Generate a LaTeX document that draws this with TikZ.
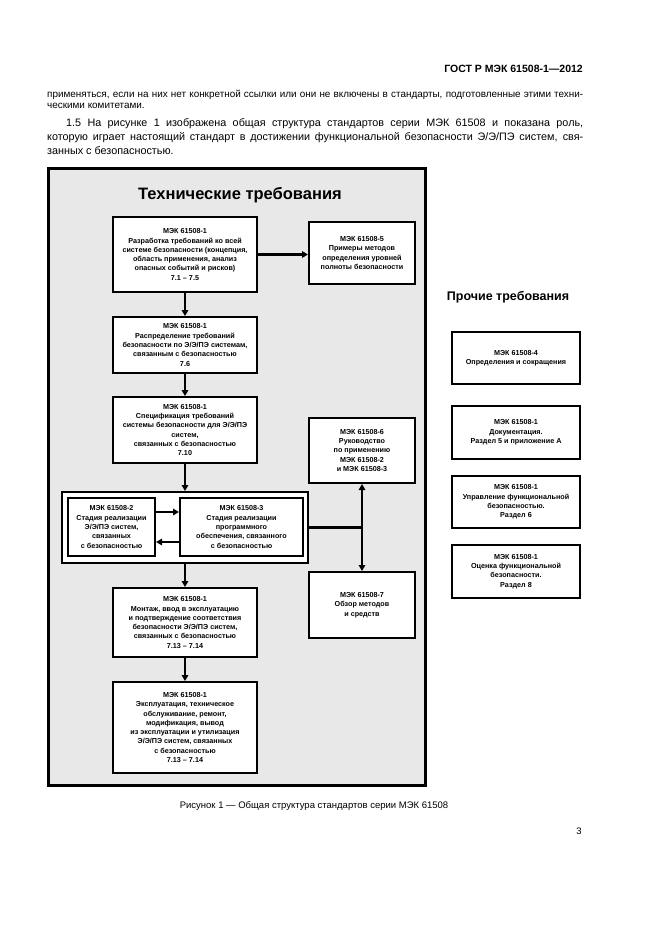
\documentclass[tikz,border=0pt]{standalone}
\usepackage{fontspec}
\setmainfont{Liberation Sans}
\usetikzlibrary{arrows.meta}

\newcommand{\boxfont}{\fontsize{7.2bp}{9.3bp}\selectfont\bfseries}
\newcommand{\smallpar}{\fontsize{9.9bp}{11bp}\selectfont}
\newcommand{\bigpar}{\fontsize{10.8bp}{12bp}\selectfont}

\tikzset{
	stdbox/.style={draw, line width=2bp, fill=white, align=center, font=\boxfont, inner sep=1bp, minimum width=144bp},
	sidebox/.style={stdbox, minimum width=106bp},
	otherbox/.style={stdbox, minimum width=128bp, minimum height=52.5bp},
	flow/.style={line width=2.8bp, -{Triangle[length=6bp,width=6.5bp]}},
	bothflow/.style={line width=2.8bp, {Triangle[length=6bp,width=6.5bp]}-{Triangle[length=6bp,width=6.5bp]}},
	pagetext/.style={anchor=base west, inner sep=0pt},
}

\begin{document}
\begin{tikzpicture}[x=1bp,y=-1bp]
	\path[use as bounding box, fill=white] (0,0) rectangle (661,935);

	%page text
	\node[anchor=base east, inner sep=0pt, font=\fontsize{10.5bp}{12bp}\selectfont\bfseries] (header) at (583,72) {ГОСТ Р МЭК 61508-1—2012};
	\node[pagetext, font=\smallpar] (parA1) at (47,97) {\makebox[536bp][s]{применяться, если на них нет конкретной ссылки или они не включены в стандарты, подготовленные этими техни-}};
	\node[pagetext, font=\smallpar] (parA2) at (47,108) {ческими комитетами.};
	\node[pagetext, font=\bigpar] (parB1) at (66,126) {\makebox[517bp][s]{1.5 На рисунке 1 изображена общая структура стандартов серии МЭК 61508 и показана роль,}};
	\node[pagetext, font=\bigpar] (parB2) at (47,140) {\makebox[536bp][s]{которую играет настоящий стандарт в достижении функциональной безопасности Э/Э/ПЭ систем, свя-}};
	\node[pagetext, font=\bigpar] (parB3) at (47,154) {занных с безопасностью.};

	%grey frame
	\filldraw[fill=black!9, line width=3bp] (48,168) rectangle (425,785);
	\node[font=\fontsize{16.5bp}{18bp}\selectfont\bfseries] (techtitle) at (240,195) {Технические требования};

	%main column
	\node[stdbox, minimum height=75bp] (dev) at (185,254.5) {МЭК 61508-1\\Разработка требований ко всей\\системе безопасности (концепция,\\область применения, анализ\\опасных событий и рисков)\\7.1 – 7.5};
	\node[stdbox, minimum height=56bp] (alloc) at (185,345) {МЭК 61508-1\\Распределение требований\\безопасности по Э/Э/ПЭ системам,\\связанным с безопасностью\\7.6};
	\node[stdbox, minimum height=66bp] (spec) at (185,430) {МЭК 61508-1\\Спецификация требований\\системы безопасности для Э/Э/ПЭ\\систем,\\связанных с безопасностью\\7.10};
	\node[stdbox, minimum width=246bp, minimum height=71bp] (impl) at (185,527.5) {};
	\node[stdbox, minimum width=87bp, minimum height=58bp] (hw) at (111.5,527) {МЭК 61508-2\\Стадия реализации\\Э/Э/ПЭ систем,\\связанных\\с безопасностью};
	\node[stdbox, minimum width=123bp, minimum height=58bp] (sw) at (241.5,527) {МЭК 61508-3\\Стадия реализации\\программного\\обеспечения, связанного\\с безопасностью};
	\node[stdbox, minimum height=69bp] (inst) at (185,622.5) {МЭК 61508-1\\Монтаж, ввод в эксплуатацию\\и подтверждение соответствия\\безопасности Э/Э/ПЭ систем,\\связанных с безопасностью\\7.13 – 7.14};
	\node[stdbox, minimum height=91bp] (oper) at (185,727.5) {МЭК 61508-1\\Эксплуатация, техническое\\обслуживание, ремонт,\\модификация, вывод\\из эксплуатации и утилизация\\Э/Э/ПЭ систем, связанных\\с безопасностью\\7.13 – 7.14};

	%side column
	\node[sidebox, minimum height=62bp] (sil) at (362,253) {МЭК 61508-5\\Примеры методов\\определения уровней\\полноты безопасности};
	\node[sidebox, minimum height=65bp] (guide) at (362,450.5) {МЭК 61508-6\\Руководство\\по применению\\МЭК 61508-2\\и МЭК 61508-3};
	\node[sidebox, minimum height=66bp] (tools) at (362,605) {МЭК 61508-7\\Обзор методов\\и средств};

	%arrows
	\draw[flow] (dev.east) -- (dev.east -| sil.west);
	\draw[flow] (dev) -- (alloc);
	\draw[flow] (alloc) -- (spec);
	\draw[flow] (spec) -- (impl);
	\draw[flow] (impl) -- (inst);
	\draw[flow] (inst) -- (oper);
	\draw[flow] ([yshift=15bp]hw.east) -- ([yshift=15bp]sw.west);
	\draw[flow] ([yshift=-15bp]sw.west) -- ([yshift=-15bp]hw.east);
	\draw[bothflow] (guide) -- (tools);
	\draw[line width=2.8bp] (impl.east) -- (impl.east -| guide.south);

	%other requirements
	\node[font=\fontsize{12.5bp}{14bp}\selectfont\bfseries] (othertitle) at (508,297) {Прочие требования};
	\foreach \name/\y/\txt in {defs/358/{МЭК 61508-4\\Определения и сокращения},
		docs/432.5/{МЭК 61508-1\\Документация.\\Раздел 5 и приложение А},
		mgmt/502/{МЭК 61508-1\\Управление функциональной\\безопасностью.\\Раздел 6},
		assess/571.5/{МЭК 61508-1\\Оценка функциональной\\безопасности.\\Раздел 8}}{
		\node[otherbox] (\name) at (516,\y) {\txt};}

	%caption
	\node[font=\fontsize{9.5bp}{11bp}\selectfont] (caption) at (314,806) {Рисунок 1 — Общая структура стандартов серии МЭК 61508};
	\node[font=\fontsize{9.5bp}{11bp}\selectfont] (pagenum) at (579,831) {3};
\end{tikzpicture}
\end{document}
